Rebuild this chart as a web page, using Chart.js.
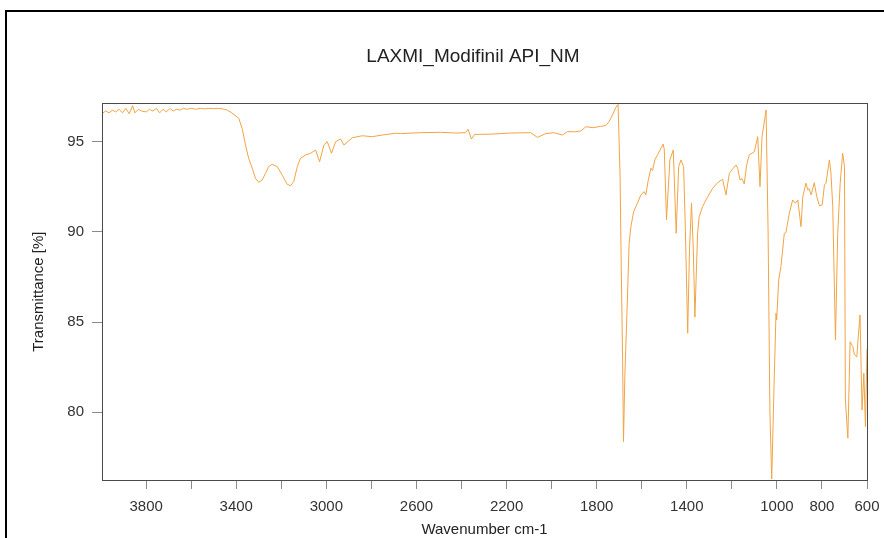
<!DOCTYPE html>
<html lang="en">
<head>
<meta charset="UTF-8">
<title>LAXMI_Modifinil API_NM</title>
<script src="https://cdn.jsdelivr.net/npm/chart.js"></script>
<style>
    body {
        margin: 0;
        padding: 0;
        background: #ffffff;
        overflow: hidden;
    }
    .frame {
        position: absolute;
        left: 5px;
        top: 10px;
        width: 900px;
        height: 600px;
        border: 2px solid #000;
    }
    #spectrum {
        position: absolute;
        left: 0;
        top: 0;
    }
</style>
</head>
<body>
<div class="frame"></div>
<canvas id="spectrum" width="884" height="538"></canvas>

<script>
    // wavenumber (cm-1) and transmittance (%)
    var wavenumbers = [
        3995, 3980, 3965, 3950, 3935, 3920, 3905, 3890, 3875, 3860, 3850, 3835, 3820, 3800, 3785, 3770,
        3755, 3740, 3725, 3710, 3695, 3680, 3665, 3650, 3635, 3620, 3600, 3580, 3560, 3540, 3520, 3500,
        3480, 3460, 3440, 3420, 3389, 3374, 3359, 3345, 3329, 3315, 3300, 3285, 3270, 3256, 3241, 3218,
        3196, 3174, 3159, 3145, 3129, 3115, 3093, 3070, 3048, 3030, 3011, 2996, 2977, 2959, 2937, 2922,
        2885, 2841, 2796, 2752, 2693, 2670, 2581, 2493, 2426, 2382, 2371, 2356, 2342, 2270, 2182, 2093,
        2063, 2026, 1990, 1952, 1930, 1893, 1870, 1848, 1817, 1782, 1759, 1745, 1730, 1715, 1705, 1696,
        1691, 1685, 1681, 1675, 1663, 1656, 1648, 1636, 1619, 1604, 1589, 1582, 1571, 1559, 1552, 1542,
        1530, 1515, 1505, 1500, 1490, 1475, 1460, 1447, 1436, 1426, 1414, 1406, 1396, 1388, 1379, 1371,
        1364, 1352, 1345, 1330, 1307, 1285, 1263, 1241, 1226, 1211, 1194, 1181, 1174, 1164, 1155, 1145,
        1134, 1123, 1100, 1085, 1075, 1066, 1048, 1039, 1031, 1023, 1012, 1004, 1001, 992, 982, 967,
        960, 945, 930, 918, 907, 893, 885, 871, 863, 857, 848, 834, 823, 811, 799, 789,
        782, 767, 760, 752, 740, 730, 719, 708, 700, 696, 685, 675, 663, 656, 645, 640,
        631, 622, 614, 607, 600
    ];
    var transmittance = [
        96.57, 96.70, 96.60, 96.75, 96.65, 96.80, 96.60, 96.85, 96.55, 97.00, 96.60, 96.80, 96.70, 96.65, 96.80, 96.70,
        96.85, 96.60, 96.80, 96.65, 96.85, 96.70, 96.80, 96.75, 96.85, 96.80, 96.85, 96.80, 96.85, 96.82, 96.85, 96.83,
        96.85, 96.82, 96.75, 96.60, 96.30, 95.74, 94.82, 94.08, 93.53, 92.97, 92.75, 92.88, 93.25, 93.62, 93.75, 93.62,
        93.15, 92.64, 92.56, 92.78, 93.62, 94.08, 94.26, 94.36, 94.54, 93.89, 94.82, 95.00, 94.36, 95.00, 95.15, 94.82,
        95.22, 95.33, 95.28, 95.37, 95.47, 95.45, 95.50, 95.52, 95.48, 95.50, 95.69, 95.15, 95.40, 95.42, 95.48, 95.50,
        95.24, 95.45, 95.50, 95.37, 95.56, 95.55, 95.60, 95.83, 95.78, 95.85, 95.90, 96.11, 96.48, 96.90, 97.07, 93.00,
        88.00, 83.00, 78.37, 82.00, 86.50, 89.37, 90.29, 91.12, 91.59, 92.05, 92.23, 92.05, 92.88, 93.53, 93.40, 93.99,
        94.26, 94.63, 94.87, 94.60, 90.66, 93.99, 94.54, 89.92, 93.62, 93.99, 93.62, 90.00, 84.38, 89.00, 91.59, 89.00,
        85.27, 89.92, 90.84, 91.40, 91.95, 92.42, 92.73, 92.92, 92.05, 93.25, 93.53, 93.71, 93.53, 92.88, 92.95, 92.66,
        93.71, 94.26, 94.45, 95.28, 92.51, 95.28, 96.76, 90.00, 80.00, 76.30, 81.79, 85.49, 85.12, 87.33, 88.07, 89.92,
        89.95, 91.03, 91.77, 91.59, 91.77, 90.29, 91.95, 92.70, 92.33, 92.40, 92.05, 92.73, 91.95, 91.44, 91.50, 92.60,
        92.70, 93.99, 93.25, 91.40, 84.00, 89.92, 92.70, 94.36, 93.62, 80.68, 78.56, 83.91, 83.64, 83.20, 83.08, 84.00,
        85.39, 80.12, 82.16, 79.20, 83.50
    ];

    var xTicks = [3800, 3600, 3400, 3200, 3000, 2800, 2600, 2400, 2200, 2000, 1800, 1600, 1400, 1200, 1000, 800, 600];
    var xTickLabels = ['3800', '', '3400', '', '3000', '', '2600', '', '2200', '', '1800', '', '1400', '', '1000', '800', '600'];
    var yTicks = [80, 85, 90, 95];

    var points = [];
    for (var i = 0; i < wavenumbers.length; i++) {
        points.push({ x: wavenumbers[i], y: transmittance[i] });
    }

    var fontFamily = '"Liberation Sans", Arial, sans-serif';

    // box around the plot area, and title centred a bit right of the page centre
    var plotFrame = {
        id: 'plotFrame',
        afterLayout: function(chart) {
            if (chart.titleBlock) {
                chart.titleBlock.left = 79;
                chart.titleBlock.right = 867;
            }
        },
        afterDraw: function(chart) {
            var a = chart.chartArea;
            var ctx = chart.ctx;
            ctx.save();
            ctx.strokeStyle = '#4a4a4a';
            ctx.lineWidth = 1;
            ctx.strokeRect(Math.round(a.left) + 0.5, Math.round(a.top) + 0.5,
                Math.round(a.right - a.left), Math.round(a.bottom - a.top));
            ctx.restore();
        }
    };

    var ctx = document.getElementById('spectrum').getContext('2d');
    var myChart = new Chart(ctx, {
        type: 'line',
        data: {
            datasets: [{
                label: 'LAXMI_Modifinil API_NM',
                data: points,
                borderColor: '#f2a443',
                borderWidth: 1,
                pointRadius: 0,
                tension: 0,
                fill: false
            }]
        },
        options: {
            responsive: false,
            animation: false,
            layout: {
                padding: { left: 0, right: 17, top: 0, bottom: 0 }
            },
            scales: {
                x: {
                    type: 'linear',
                    reverse: true,
                    min: 600,
                    max: 3996,
                    afterBuildTicks: function(scale) {
                        scale.ticks = xTicks.map(function(v) { return { value: v }; });
                    },
                    afterFit: function(scale) {
                        scale.height = 58;
                        scale.paddingLeft = 0;
                        scale.paddingRight = 0;
                    },
                    ticks: {
                        autoSkip: false,
                        maxRotation: 0,
                        padding: 9,
                        color: '#333',
                        font: { family: fontFamily, size: 15 },
                        callback: function(value, index) {
                            return xTickLabels[index];
                        }
                    },
                    grid: {
                        drawOnChartArea: false,
                        tickLength: 9,
                        color: '#8a8a8a'
                    },
                    border: { display: false },
                    title: {
                        display: true,
                        text: 'Wavenumber cm-1',
                        color: '#222',
                        font: { family: fontFamily, size: 15 },
                        padding: { top: 0, bottom: -1 }
                    }
                },
                y: {
                    min: 76.24,
                    max: 97.13,
                    afterBuildTicks: function(scale) {
                        scale.ticks = yTicks.map(function(v) { return { value: v }; });
                    },
                    afterFit: function(scale) {
                        scale.width = 102;
                    },
                    ticks: {
                        padding: 8,
                        color: '#333',
                        font: { family: fontFamily, size: 15 }
                    },
                    grid: {
                        drawOnChartArea: false,
                        tickLength: 10,
                        color: '#8a8a8a'
                    },
                    border: { display: false },
                    title: {
                        display: true,
                        text: 'Transmittance [%]',
                        color: '#222',
                        font: { family: fontFamily, size: 15 },
                        padding: { top: 30, bottom: 0 }
                    }
                }
            },
            plugins: {
                legend: { display: false },
                tooltip: { enabled: false },
                title: {
                    display: true,
                    text: 'LAXMI_Modifinil API_NM',
                    color: '#222',
                    font: { family: fontFamily, size: 19, weight: 'normal' },
                    padding: { top: 45.6, bottom: 34.9 }
                }
            }
        },
        plugins: [plotFrame]
    });
</script>
</body>
</html>
